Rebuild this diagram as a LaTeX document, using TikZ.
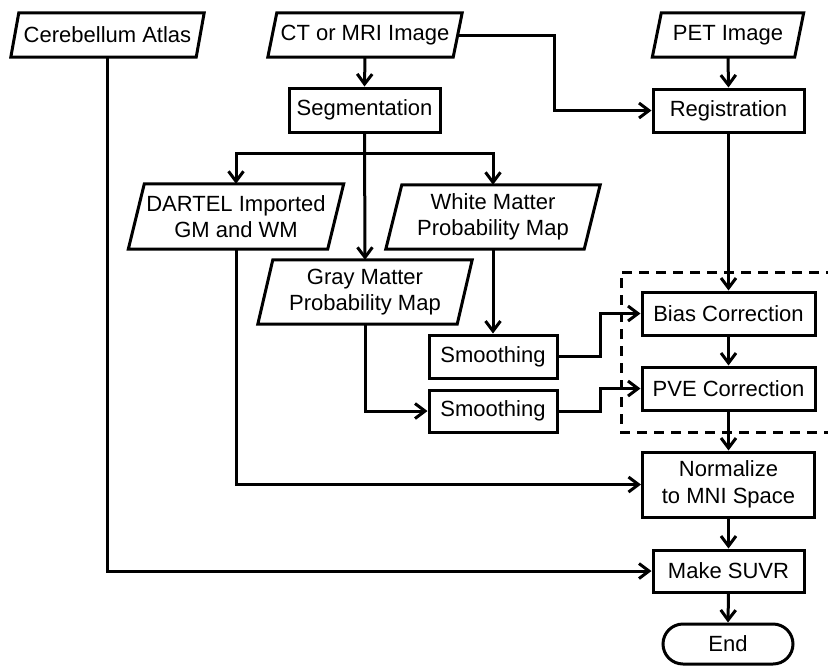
\documentclass[tikz,border=0pt]{standalone}
\usepackage{fontspec}
\setmainfont{Liberation Sans}
\usetikzlibrary{arrows.meta,shapes.misc}
\begin{document}
\begin{tikzpicture}[x=1pt,y=-1pt,
  every node/.style={font=\fontsize{22}{26.5}\selectfont, align=center, inner sep=0pt},
  procbox/.style={draw, line width=3pt, rectangle},
  iobox/.style={draw=none, rectangle},
  endbox/.style={draw, line width=3pt, rounded rectangle},
  conn/.style={line width=3pt},
  arr/.style={line width=3pt, -{Straight Barb[length=10pt,width=15pt,line width=3pt]}},
  dashbox/.style={line width=3pt, dash pattern=on 10pt off 7pt}]
\useasboundingbox (0,0) rectangle (828,665);
% input/output nodes (parallelograms drawn below)
\node[iobox, minimum width=185pt, minimum height=44pt] (cer) at (107.5,35) {Cerebellum Atlas};
\node[iobox, minimum width=185pt, minimum height=44pt] (ct) at (365,35) {CT or MRI Image};
\node[iobox, minimum width=142pt, minimum height=44pt] (pet) at (728,35) {PET Image};
\node[iobox, minimum width=199pt, minimum height=65pt] (dartel) at (236,216.5) {DARTEL Imported\\GM and WM};
\node[iobox, minimum width=198pt, minimum height=64pt] (wm) at (493,217) {White Matter\\Probability Map};
\node[iobox, minimum width=199pt, minimum height=64pt] (gm) at (365,292) {Gray Matter\\Probability Map};
% process nodes
\node[procbox, minimum width=151pt, minimum height=44pt] (seg) at (364.5,110) {Segmentation};
\node[procbox, minimum width=151pt, minimum height=43pt] (reg) at (728.5,110.5) {Registration};
\node[procbox, minimum width=128pt, minimum height=43pt] (sm1) at (493,356.5) {Smoothing};
\node[procbox, minimum width=128pt, minimum height=42pt] (sm2) at (493,411) {Smoothing};
\node[procbox, minimum width=173pt, minimum height=43pt] (bias) at (728.5,313.5) {Bias Correction};
\node[procbox, minimum width=173pt, minimum height=43pt] (pve) at (728.5,388.5) {PVE Correction};
\node[procbox, minimum width=172pt, minimum height=65pt] (norm) at (728.5,484.5) {Normalize\\to MNI Space};
\node[procbox, minimum width=151pt, minimum height=42pt] (suvr) at (728.5,571) {Make SUVR};
\node[endbox, minimum width=130pt, minimum height=40pt] (end) at (728,644) {End};
% parallelograms
\foreach \n/\s in {cer/4, ct/4.5, pet/4.5, dartel/8, wm/8, gm/7.5}{
  \draw[line width=3pt, line join=miter]
    ([xshift=\s pt]\n.north west) -- ([xshift=\s pt]\n.north east)
    -- ([xshift=-\s pt]\n.south east) -- ([xshift=-\s pt]\n.south west) -- cycle;
}
% dashed group
\draw[dashbox] (836,272) -- (621,272) -- (621,432) -- (836,432);
% connectors
\coordinate (br) at (365,153);
\draw[arr] (ct.south) -- (seg.north);
\draw[arr] (ct.east) -- (554,35) |- (reg.west);
\draw[arr] (pet.south) -- (reg.north);
\draw[arr] (seg.south) -- (gm.north);
\draw[arr] (br) -| (dartel.north);
\draw[arr] (br) -| (wm.north);
\draw[arr] (wm.south) -- (sm1.north);
\draw[arr] (gm.south) |- (sm2.west);
\draw[arr] (sm1.east) -- ++(42,0) |- (bias.west);
\draw[arr] (sm2.east) -- ++(42,0) |- (pve.west);
\draw[arr] (reg.south) -- (bias.north);
\draw[arr] (bias.south) -- (pve.north);
\draw[arr] (pve.south) -- (norm.north);
\draw[arr] (norm.south) -- (suvr.north);
\draw[arr] (suvr.south) -- (end.north);
\draw[arr] (dartel.south) |- (norm.west);
\draw[arr] (cer.south) |- (suvr.west);
\end{tikzpicture}
\end{document}
